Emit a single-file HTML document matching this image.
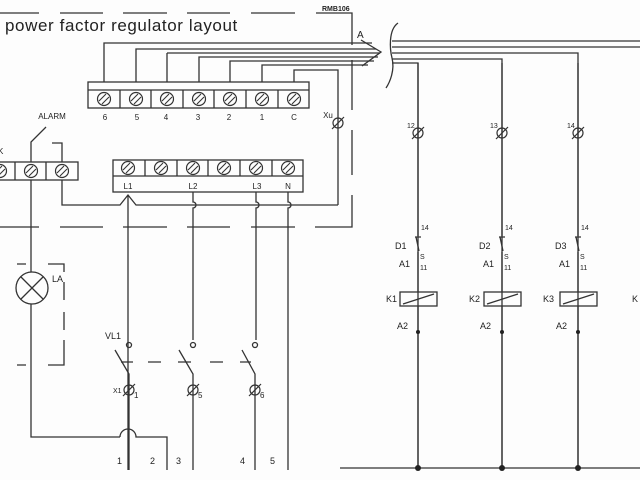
<!DOCTYPE html>
<html><head><meta charset="utf-8"><style>
html,body{margin:0;padding:0;background:#fff;}
svg{display:block;}
text{font-family:"Liberation Sans",sans-serif;fill:#222;}
</style></head><body>
<svg width="640" height="480" viewBox="0 0 640 480" xmlns="http://www.w3.org/2000/svg">
<defs>
<g id="scr"><circle r="6.5" fill="none" stroke="#333" stroke-width="1.2"/><line x1="-5" y1="2" x2="2" y2="-5" stroke="#333" stroke-width="1.1"/><line x1="-2" y1="5" x2="5" y2="-2" stroke="#333" stroke-width="1.1"/></g>
<g id="trm"><circle r="5" fill="none" stroke="#333" stroke-width="1.2"/><line x1="-6" y1="6" x2="6" y2="-6" stroke="#333" stroke-width="1.2"/></g>
</defs>
<rect width="640" height="480" fill="#fdfdfd"/>
<g stroke="#333" stroke-width="1.3" fill="none">
<path d="M0 13H39M60 13H103M123 13H167M187 13H230M251 13H295M316 13H352V45M352 60V110" />
<path d="M352 130V175M352 195V227H315M295 227H251M230 227H187M167 227H123M103 227H60M39 227H0"/>
<rect x="88" y="82" width="221" height="26"/>
<line x1="88" y1="90" x2="309" y2="90"/>
<path d="M120 90V108M151 90V108M183 90V108M214 90V108M246 90V108M278 90V108"/>
<path d="M104 82V43H372M136 82V49H376M167 82V53M199 82V57H378M230 82V61H374M262 82V65H368M294 82V70H338V205"/>
<path d="M167 53H380"/>
<path d="M361 40L381 52L362 66"/>
<path d="M398 23C388 30 390 50 392 58C395 70 390 82 386 88"/>
<path d="M392 41H640M392 47H640M392 53H578V468M392 59H502V468M392 63H418V468"/>
<path d="M340 468H640"/>
<rect x="-2" y="162" width="80" height="18"/>
<path d="M15 162V180M46 162V180"/>
<path d="M31 162V142L46 127M62 162V143H52"/>
<path d="M62 180V205H120L128 195L136 205H338"/>
<path d="M31 180V272M31 304V437H120"/>
<circle cx="32" cy="288" r="16"/>
<path d="M21 277L43 299M43 277L21 299"/>
<path d="M17 264H26M48 264H64V272M64 282V300M64 312V330M64 340V365H48M26 365H17"/>
<path d="M120 437A8 8 0 0 1 136 437H167V470"/>
<rect x="113" y="160" width="190" height="32"/>
<line x1="113" y1="176" x2="303" y2="176"/>
<path d="M145 160V176M177 160V176M208 160V176M240 160V176M272 160V176"/>
<path d="M128 195V470M193 192V202A3 3 0 0 1 193 208V340M256 192V202A3 3 0 0 1 256 208V340M288 192V202A3 3 0 0 1 288 208V470"/>
<circle cx="129" cy="345" r="2.5"/><circle cx="193" cy="345" r="2.5"/><circle cx="255" cy="345" r="2.5"/>
<path d="M115 350L129 374V470M179 350L193 374V470M242 350L255 374V470"/>
<path d="M121 362H133M148 362H161M178 362H191M210 362H223M240 362H251"/>
<g id="col">
<path d="M415 237H421M416 237L419 251M418 270V292"/>
<rect x="400" y="292" width="37" height="14"/>
<path d="M403 304L434 294"/>
<path d="M418 236V63M418 252V270M418 306V468"/>
</g>
<use href="#col" x="84"/><use href="#col" x="160"/>
</g>
<g fill="#222">
<circle cx="418" cy="332" r="2"/><circle cx="502" cy="332" r="2"/><circle cx="578" cy="332" r="2"/>
<circle cx="418" cy="468" r="3"/><circle cx="502" cy="468" r="3"/><circle cx="578" cy="468" r="3"/>
</g>
<use href="#scr" x="104" y="99"/><use href="#scr" x="136" y="99"/><use href="#scr" x="167" y="99"/><use href="#scr" x="199" y="99"/><use href="#scr" x="230" y="99"/><use href="#scr" x="262" y="99"/><use href="#scr" x="294" y="99"/>
<use href="#scr" x="0" y="171"/><use href="#scr" x="31" y="171"/><use href="#scr" x="62" y="171"/>
<use href="#scr" x="128" y="168"/><use href="#scr" x="161" y="168"/><use href="#scr" x="193" y="168"/><use href="#scr" x="224" y="168"/><use href="#scr" x="256" y="168"/><use href="#scr" x="288" y="168"/>
<use href="#trm" x="338" y="123"/><use href="#trm" x="418" y="133"/><use href="#trm" x="502" y="133"/><use href="#trm" x="578" y="133"/>
<use href="#trm" x="129" y="390"/><use href="#trm" x="193" y="390"/><use href="#trm" x="255" y="390"/>
<text x="5" y="31" font-size="17" letter-spacing="0.6">power factor regulator layout</text>
<text x="322" y="11" font-size="7" font-weight="bold">RMB106</text>
<text x="357" y="38" font-size="10">A</text>
<g font-size="8" text-anchor="middle">
<text x="105" y="120">6</text><text x="137" y="120">5</text><text x="166" y="120">4</text><text x="198" y="120">3</text><text x="229" y="120">2</text><text x="262" y="120">1</text><text x="294" y="120">C</text>
<text x="128" y="189">L1</text><text x="193" y="189">L2</text><text x="257" y="189">L3</text><text x="288" y="189">N</text>
<text x="52" y="119">ALARM</text>
<text x="328" y="118">Xu</text>
</g>
<text x="-2" y="154" font-size="8">K</text>
<text x="52" y="282" font-size="9">LA</text>
<text x="105" y="339" font-size="9">VL1</text>
<text x="113" y="393" font-size="7">X1</text>
<text x="134" y="398" font-size="8">1</text><text x="198" y="398" font-size="8">5</text><text x="260" y="398" font-size="8">6</text>
<g font-size="9"><text x="117" y="464">1</text><text x="150" y="464">2</text><text x="176" y="464">3</text><text x="240" y="464">4</text><text x="270" y="464">5</text></g>
<g font-size="7">
<text x="407" y="128">12</text><text x="490" y="128">13</text><text x="567" y="128">14</text>
<text x="421" y="230">14</text><text x="505" y="230">14</text><text x="581" y="230">14</text>
<text x="420" y="259">S</text><text x="504" y="259">S</text><text x="580" y="259">S</text>
<text x="420" y="270">11</text><text x="504" y="270">11</text><text x="580" y="270">11</text>
</g>
<g font-size="9">
<text x="395" y="249">D1</text><text x="479" y="249">D2</text><text x="555" y="249">D3</text>
<text x="399" y="267">A1</text><text x="483" y="267">A1</text><text x="559" y="267">A1</text>
<text x="386" y="302">K1</text><text x="469" y="302">K2</text><text x="543" y="302">K3</text><text x="632" y="302">K</text>
<text x="397" y="329">A2</text><text x="480" y="329">A2</text><text x="556" y="329">A2</text>
</g>
</svg>
</body></html>
